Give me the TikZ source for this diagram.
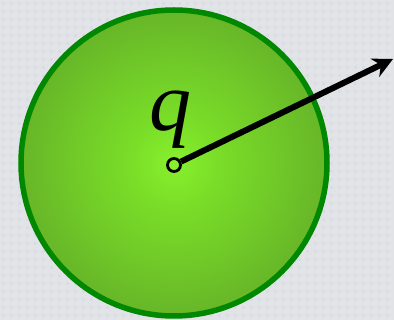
\documentclass[tikz,border=0pt]{standalone}
\usepackage{fontspec}
\newfontfamily\qfont{Liberation Serif}
\usetikzlibrary{arrows.meta}
\definecolor{bggray}{RGB}{226,227,231}
\definecolor{bgdot}{RGB}{218,220,227}
\definecolor{ballA}{RGB}{135,240,45}
\definecolor{ballB}{RGB}{122,222,40}
\definecolor{ballC}{RGB}{104,184,40}
\definecolor{ballD}{RGB}{86,152,36}
\definecolor{ballE}{RGB}{78,136,34}
\definecolor{rimgreen}{RGB}{0,136,0}
\pgfdeclareradialshading{ball}{\pgfpoint{0bp}{0bp}}{color(0bp)=(ballA); color(7bp)=(ballB); color(24bp)=(ballC); color(36bp)=(ballD); color(46bp)=(ballE); color(50bp)=(ballE)}
\begin{document}
\begin{tikzpicture}[x=1pt,y=-1pt,
  rim/.style={draw=rimgreen,line width=5.5pt},
  vec/.style={line width=6pt,-{Stealth[length=20pt,width=20pt]}},
  pt/.style={circle,draw=black,line width=2.8pt,minimum size=13pt,inner sep=0pt,fill=ballA}]
\useasboundingbox (0,0) rectangle (394,320);
\fill[bggray] (0,0) rectangle (394,320);
\foreach \i in {0,...,49}{\foreach \j in {0,...,39}{\fill[bgdot] (\i*8+2,\j*8+2) rectangle +(3,3);}}
\shade[shading=ball] (174,163) circle (154);
\draw[rim] (174,163) circle (153);
\node[pt] (c) at (174,165) {};
\coordinate (tip) at (393,59);
\draw[vec] (c) -- (tip);
\node[anchor=base,inner sep=0pt,font=\qfont\itshape\fontsize{84}{84}\selectfont] (q) at (170,131) {q};
\end{tikzpicture}
\end{document}
